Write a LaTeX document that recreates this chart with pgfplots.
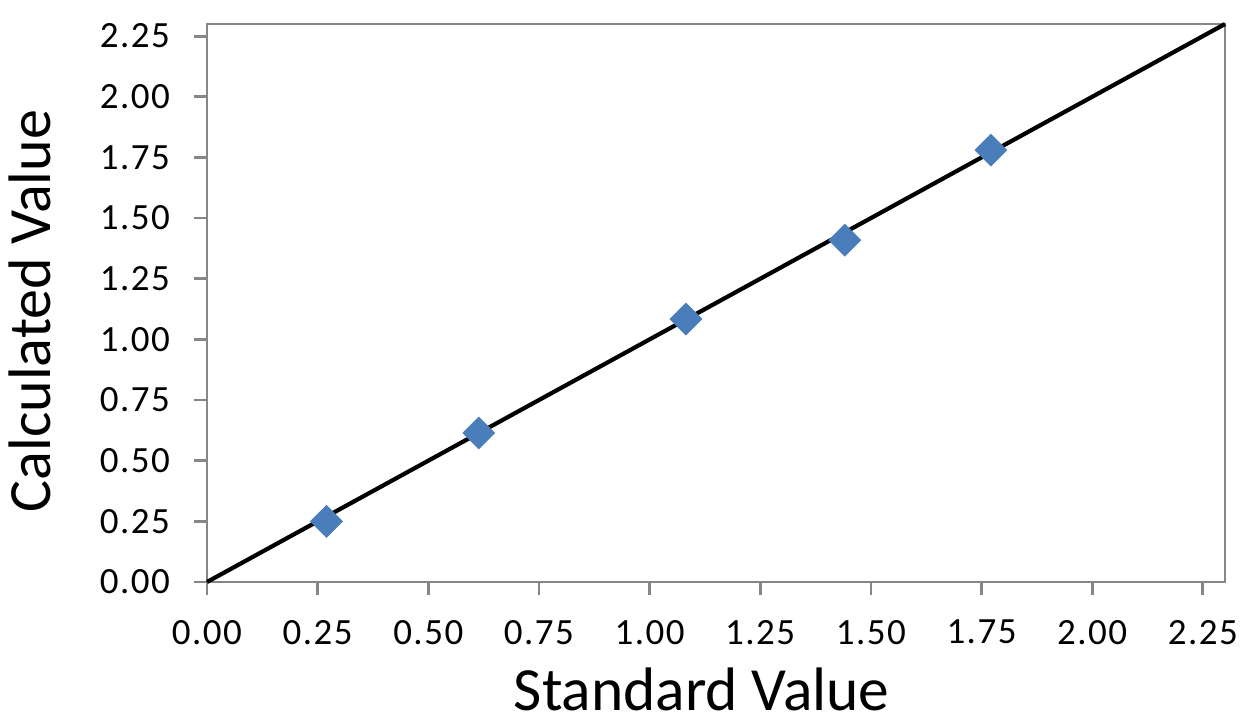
\documentclass[border=0pt]{standalone}
\usepackage{pgfplots}
\pgfplotsset{compat=1.18}
\usepackage{fontspec}
\setmainfont{Carlito}
\newfontfamily\tickfont[LetterSpace=4]{Carlito}
\definecolor{mblue}{HTML}{4A7EBB}
\definecolor{fgrey}{HTML}{868686}
\begin{document}
\begin{tikzpicture}
\begin{axis}[
  scale only axis,
  width=509pt, height=279pt,
  xmin=0, xmax=2.3, ymin=0, ymax=2.3,
  xtick={0,0.25,...,2.25}, ytick={0,0.25,...,2.25},
  axis line style={fgrey, line width=1.4pt},
  every tick/.style={fgrey, line width=1.4pt},
  tick align=outside, major tick length=6.5pt,
  xtick pos=bottom, ytick pos=left,
  /pgf/number format/assume math mode=true,
  /pgf/number format/.cd, fixed, fixed zerofill, precision=2, /pgfplots/.cd,
  tick label style={font=\tickfont\fontsize{18.5}{20}\selectfont, black},
  xticklabel style={yshift=-9pt},
  yticklabel style={xshift=-8.5pt},
  xlabel={\fontsize{30.7}{34}\selectfont Standard Value},
  ylabel={\fontsize{30}{34}\selectfont Calculated Value},
  xlabel style={at={(axis description cs:0.486,0)}, anchor=base, yshift=-64pt, inner sep=0pt},
  ylabel style={at={(axis description cs:-0.1542,0.4857)}, anchor=base, inner sep=0pt},
  clip=false,
]
\addplot[black, line width=2.1pt] coordinates {(0,0) (2.3,2.3)};
\addplot[only marks, mark=square*, mark size=5.6pt, mark options={rotate=45, fill=mblue, draw=mblue}]
  coordinates {(0.27,0.25) (0.614,0.614) (1.082,1.084) (1.441,1.409) (1.771,1.78)};
\end{axis}
\path (-103.5pt,-69pt) rectangle (521.5pt,291pt);
\end{tikzpicture}
\end{document}
